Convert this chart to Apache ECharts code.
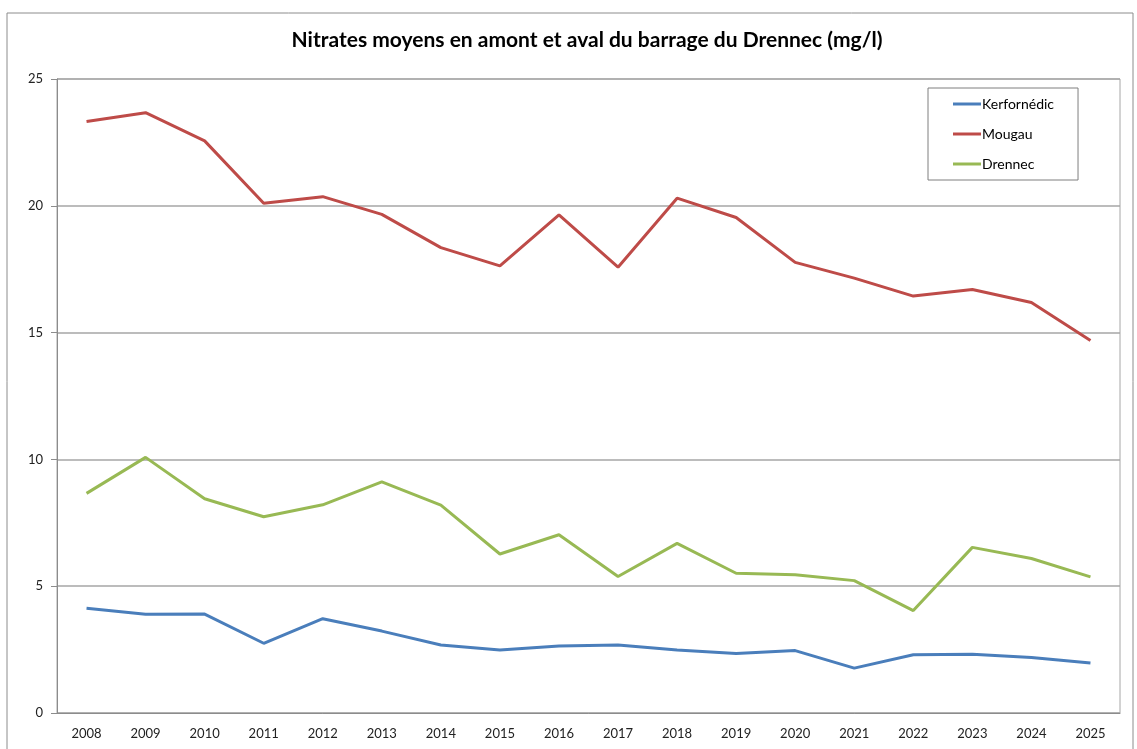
<!DOCTYPE html>
<html>
<head>
<meta charset="utf-8">
<script src="https://cdn.jsdelivr.net/npm/echarts@6/dist/echarts.min.js"></script>
<style>
body { margin: 0; padding: 0; background: #fff; }
#main { width: 1137px; height: 749px; }
</style>
</head>
<body>
<div id="main"></div>
<script>
const years = ['2008', '2009', '2010', '2011', '2012', '2013', '2014', '2015', '2016',
  '2017', '2018', '2019', '2020', '2021', '2022', '2023', '2024', '2025']
const kerfornedic = [4.13, 3.89, 3.90, 2.75, 3.72, 3.23, 2.68, 2.48, 2.64,
  2.68, 2.48, 2.35, 2.46, 1.77, 2.30, 2.32, 2.19, 1.97]
const mougau = [23.32, 23.67, 22.56, 20.10, 20.36, 19.66, 18.35, 17.63, 19.64,
  17.58, 20.30, 19.54, 17.77, 17.15, 16.44, 16.70, 16.19, 14.69]
const drennec = [8.66, 10.08, 8.45, 7.74, 8.21, 9.11, 8.20, 6.27, 7.03,
  5.38, 6.69, 5.51, 5.45, 5.22, 4.04, 6.53, 6.09, 5.37]
const yTicks = [0, 5, 10, 15, 20, 25]

const chart = echarts.init(document.getElementById('main'))
const font = 'Lato, "Open Sans", sans-serif'

function line (name, data, color) {
  return {
    name: name,
    type: 'line',
    data: data,
    symbol: 'none',
    lineStyle: { color: color, width: 3 },
    itemStyle: { color: color }
  }
}

chart.setOption({
  animation: false,
  textStyle: { fontFamily: font },
  graphic: [{
    type: 'rect',
    shape: { x: 7, y: 13, width: 1126, height: 760 },
    style: { fill: 'none', stroke: '#8c8c8c', lineWidth: 1 },
    silent: true
  }],
  title: {
    text: 'Nitrates moyens en amont et aval du barrage du Drennec (mg/l)',
    left: 582,
    textAlign: 'center',
    top: 25,
    textStyle: { fontFamily: font, fontSize: 21, fontWeight: 'bold', color: '#000' }
  },
  legend: {
    orient: 'vertical',
    left: 928,
    top: 88,
    padding: [9, 24, 9, 25],
    itemGap: 16,
    itemWidth: 28,
    itemHeight: 3,
    icon: 'rect',
    borderColor: '#7f7f7f',
    borderWidth: 1,
    textStyle: { fontFamily: font, fontSize: 14, color: '#000', padding: [0, 0, 0, -4] },
    data: ['Kerfornédic', 'Mougau', 'Drennec']
  },
  grid: {
    left: 57,
    right: 17,
    top: 79,
    bottom: 36,
    show: true,
    borderColor: '#a6a6a6',
    borderWidth: 1
  },
  xAxis: {
    type: 'category',
    data: years,
    boundaryGap: true,
    axisLine: { lineStyle: { color: '#8c8c8c' } },
    axisTick: { show: false },
    axisLabel: { color: '#222', fontSize: 13, fontFamily: font, margin: 14 }
  },
  yAxis: {
    type: 'value',
    min: yTicks[0],
    max: yTicks[yTicks.length - 1],
    interval: 5,
    axisLine: { show: true, lineStyle: { color: '#8c8c8c' } },
    axisTick: { show: true, length: 6, lineStyle: { color: '#8c8c8c' } },
    axisLabel: { color: '#222', fontSize: 13, fontFamily: font, margin: 14 },
    splitLine: { lineStyle: { color: '#a6a6a6', width: 1.5 } }
  },
  series: [
    line('Kerfornédic', kerfornedic, '#4a7ebb'),
    line('Mougau', mougau, '#be4b48'),
    line('Drennec', drennec, '#98b954')
  ]
})
</script>
</body>
</html>
